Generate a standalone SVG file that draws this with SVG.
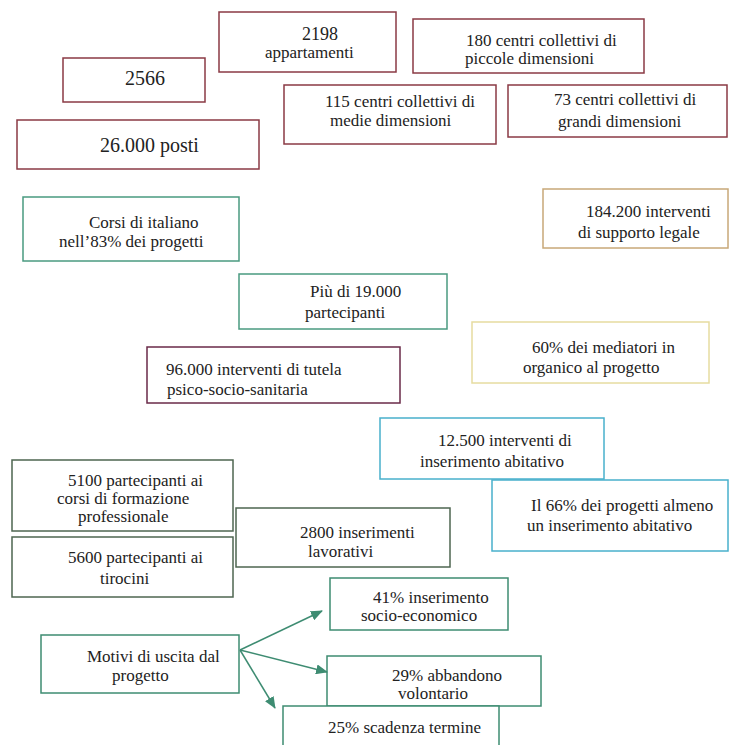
<svg xmlns="http://www.w3.org/2000/svg" width="729" height="745" viewBox="0 0 729 745">
<defs>
<style>
.b{fill:#fff;stroke-width:1.5;}
.red{stroke:#8a3a44;}
.grn{stroke:#4a9a80;}
.tan{stroke:#c8a878;}
.yel{stroke:#e6dca0;}
.pur{stroke:#6a2a48;}
.blu{stroke:#48b0cc;}
.dkg{stroke:#4e6650;}
.tea{stroke:#3e8c72;}
.big{font-size:20px;}
.arr{stroke:#3e8c72;stroke-width:1.5;fill:none;marker-end:url(#ah);}
</style>
<marker id="ah" viewBox="0 0 12 10" refX="11" refY="5" markerWidth="12" markerHeight="10" markerUnits="userSpaceOnUse" orient="auto">
<path d="M0,0 L12,5 L0,10 z" fill="#3e8c72"/>
</marker>
</defs>
<rect width="729" height="745" fill="#fff"/>
<g style="font-family:'Liberation Serif','Times New Roman',serif;font-size:17px;fill:#222">
<g id="n2198"><rect class="b red" x="219" y="12" width="177" height="60"/><text x="302" y="40" style="font-size:18px">2198</text><text x="265" y="58">appartamenti</text></g>
<g id="n180"><rect class="b red" x="413" y="19" width="231" height="54"/><text x="466" y="46">180 centri collettivi di</text><text x="465" y="64">piccole dimensioni</text></g>
<g id="n2566"><rect class="b red" x="63" y="58" width="142" height="44"/><text x="125" y="85" class="big">2566</text></g>
<g id="n115"><rect class="b red" x="284" y="85" width="212" height="59"/><text x="325" y="107">115 centri collettivi di</text><text x="330" y="126">medie dimensioni</text></g>
<g id="n73"><rect class="b red" x="508" y="85" width="219" height="52"/><text x="554" y="105">73 centri collettivi di</text><text x="558" y="127">grandi dimensioni</text></g>
<g id="n26000"><rect class="b red" x="17" y="120" width="242" height="49"/><text x="100" y="152" class="big">26.000 posti</text></g>
<g id="ncorsi"><rect class="b grn" x="23" y="197" width="216" height="64"/><text x="89" y="228">Corsi di italiano</text><text x="59" y="247">nell’83% dei progetti</text></g>
<g id="n184"><rect class="b tan" x="543" y="189" width="185" height="59"/><text x="586" y="217">184.200 interventi</text><text x="578" y="238">di supporto legale</text></g>
<g id="npiu"><rect class="b grn" x="239" y="274" width="208" height="55"/><text x="310" y="297">Più di 19.000</text><text x="305" y="318">partecipanti</text></g>
<g id="n60"><rect class="b yel" x="472" y="322" width="237" height="61"/><text x="532" y="353">60% dei mediatori in</text><text x="523" y="373">organico al progetto</text></g>
<g id="n96"><rect class="b pur" x="147" y="347" width="253" height="56"/><text x="166" y="375">96.000 interventi di tutela</text><text x="167" y="395">psico-socio-sanitaria</text></g>
<g id="n125"><rect class="b blu" x="380" y="418" width="224" height="61"/><text x="438" y="446">12.500 interventi di</text><text x="420" y="467">inserimento abitativo</text></g>
<g id="n5100"><rect class="b dkg" x="12" y="460" width="221" height="71"/><text x="68" y="486">5100 partecipanti ai</text><text x="57" y="504">corsi di formazione</text><text x="78" y="522">professionale</text></g>
<g id="n66"><rect class="b blu" x="492" y="480" width="236" height="71"/><text x="531" y="511">Il 66% dei progetti almeno</text><text x="527" y="531">un inserimento abitativo</text></g>
<g id="n2800"><rect class="b dkg" x="236" y="508" width="214" height="59"/><text x="300" y="538">2800 inserimenti</text><text x="308" y="557">lavorativi</text></g>
<g id="n5600"><rect class="b dkg" x="12" y="537" width="221" height="60"/><text x="68" y="563">5600 partecipanti ai</text><text x="100" y="584">tirocini</text></g>
<g id="n41"><rect class="b tea" x="330" y="578" width="178" height="52"/><text x="373" y="603">41% inserimento</text><text x="361" y="621">socio-economico</text></g>
<g id="nmotivi"><rect class="b tea" x="41" y="635" width="198" height="58"/><text x="87" y="662">Motivi di uscita dal</text><text x="112" y="681">progetto</text></g>
<g id="n29"><rect class="b tea" x="327" y="656" width="214" height="50"/><text x="392" y="681">29% abbandono</text><text x="398" y="699">volontario</text></g>
<g id="n25"><rect class="b tea" x="283" y="706" width="216" height="45"/><text x="328" y="733">25% scadenza termine</text></g>
</g>
<g id="connectors">
<line class="arr" x1="240" y1="650" x2="322" y2="611"/>
<line class="arr" x1="240" y1="650" x2="327" y2="672"/>
<line class="arr" x1="240" y1="650" x2="275" y2="708"/>
</g>
</svg>
